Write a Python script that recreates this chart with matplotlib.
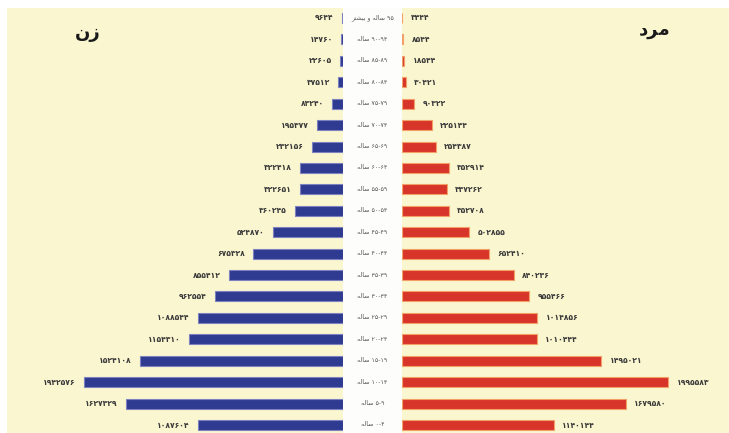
import numpy as np
import matplotlib
matplotlib.use("Agg")
import matplotlib.pyplot as plt
from matplotlib.patches import Rectangle

# age groups, bottom (0-4) to top (95+)
age_groups = ["0-4", "5-9", "10-14", "15-19", "20-24", "25-29", "30-34", "35-39",
              "40-44", "45-49", "50-54", "55-59", "60-64", "65-69", "70-74",
              "75-79", "80-84", "85-89", "90-94", "95+"]
female = [1087604, 1627329, 1942576, 1524108, 1154310, 1088544, 962554, 855412,
          675328, 524870, 360245, 322651, 322418, 232156, 195377, 83240,
          37512, 22605, 14760, 9644]
male = [1140144, 1679580, 1995583, 1495021, 1010444, 1014856, 955466, 840236,
        652410, 502855, 352708, 337262, 352914, 254387, 225144, 90322,
        30421, 18544, 8544, 3444]

CREAM = "#faf6d0"
BLUE = "#2f3b91"
RED = "#d8352a"
TXT = "#3a3a3a"

FA_DIGITS = str.maketrans("0123456789", "۰۱۲۳۴۵۶۷۸۹")

# Persian words written as presentation forms in visual (left to right) order
ZAN = "\uFEE5\uFEAF"
MARD = "\uFEA9\uFEAE\uFEE3"
SALEH = "\uFEEA\uFEDF\uFE8E\uFEB3"
VA = "\uFEED"
BISHTAR = "\uFEAE\uFE98\uFEB8\uFEF4\uFE91"


def fa(s):
    return str(s).translate(FA_DIGITS)


def age_label(g):
    if g.endswith("+"):
        return f"{BISHTAR} {VA} {SALEH} {fa(g[:-1])}"
    return f"{SALEH} {fa(g)}"


W, H = 729, 433
fig = plt.figure(figsize=(W / 100, H / 100), dpi=100, facecolor="white")
fig.patches.append(Rectangle((7 / W, 0), 1 - 7 / W, (H - 8) / H,
                             transform=fig.transFigure, facecolor=CREAM,
                             edgecolor="none", zorder=-10))

px = 7500  # people per pixel
y = np.arange(len(age_groups))
row_px = (425 - 18) / 19
ylim = (-8 / row_px, 19 + 10 / row_px)
bh = 10 / row_px
top = (H - 8) / H

axl = fig.add_axes([7 / W, 0, (343 - 7) / W, top])
axm = fig.add_axes([343 / W, 0, 59 / W, top])
axr = fig.add_axes([402 / W, 0, (W - 402) / W, top])

for ax in (axl, axm, axr):
    ax.set_ylim(*ylim)
    ax.axis("off")
axl.set_facecolor(CREAM)
axr.set_facecolor(CREAM)
axm.add_patch(Rectangle((0, 0), 1, 1, transform=axm.transAxes,
                        facecolor="#fdfdfb", edgecolor="none"))
axm.set_xlim(0, 1)

axl.set_xlim((343 - 7) * px, 0)
axr.set_xlim(0, (W - 402) * px)

axl.barh(y, female, height=bh, color=BLUE, edgecolor="#7c82c0", linewidth=0.8)
axr.barh(y, male, height=bh, color=RED, edgecolor="#f2a068", linewidth=0.8)

for yi, f, m in zip(y, female, male):
    axl.annotate(fa(f), (f, yi), xytext=(-6, 0), textcoords="offset points",
                 ha="right", va="center", fontsize=5.5, color=TXT,
                 fontweight="bold")
    axr.annotate(fa(m), (m, yi), xytext=(6, 0), textcoords="offset points",
                 ha="left", va="center", fontsize=5.5, color=TXT,
                 fontweight="bold")

for yi, g in zip(y, age_groups):
    axm.text(0.5, yi, age_label(g), ha="center", va="center",
             fontsize=4.5, color="#555555", clip_on=False)

fig.text(88 / W, 1 - 33 / H, ZAN, ha="center", va="center",
         fontsize=13, fontweight="bold", color="#1a1a1a")
fig.text(655 / W, 1 - 30 / H, MARD, ha="center", va="center",
         fontsize=13, fontweight="bold", color="#1a1a1a")

fig.savefig("out.png", dpi=100, facecolor="white")
